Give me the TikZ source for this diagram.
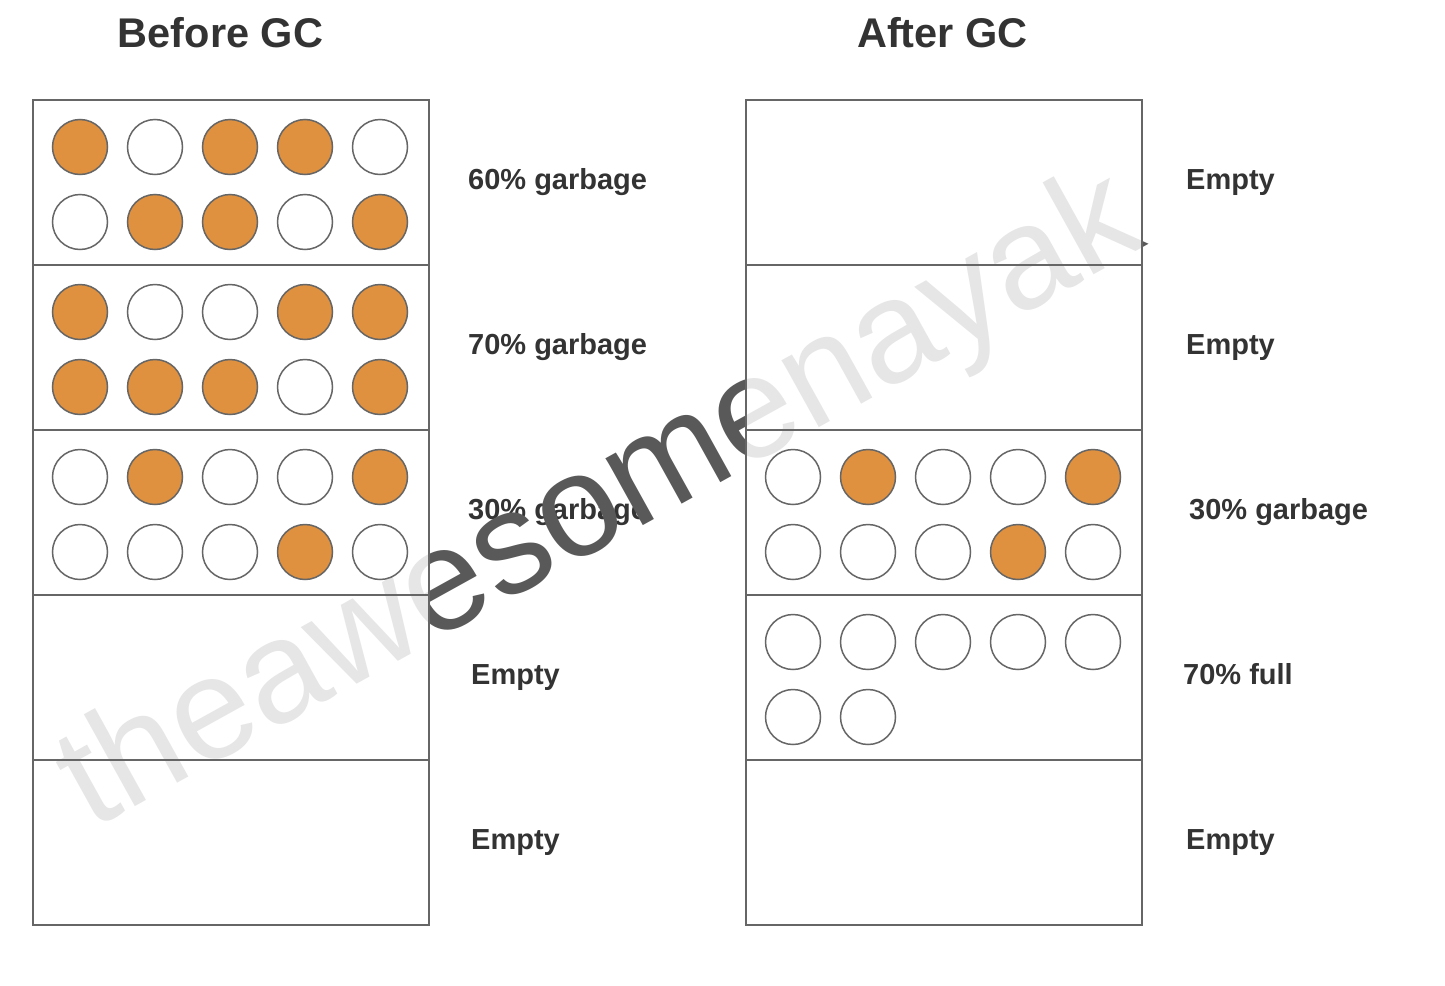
\documentclass[tikz,border=0pt]{standalone}
\usepackage{fontspec}
\setmainfont{Liberation Sans}
\usetikzlibrary{positioning}
\definecolor{garbage}{HTML}{E0913F}
\definecolor{edge}{HTML}{666666}
\definecolor{ink}{HTML}{333333}

\begin{document}
\begin{tikzpicture}[x=1pt,y=-1pt]
\tikzstyle{region} = [fill=white, fill opacity=0.85, minimum width=396pt, minimum height=165pt, inner sep=0pt, outer sep=0pt]
\tikzstyle{frame} = [draw=edge, line width=2pt]
\tikzstyle{obj} = [circle, draw=edge, line width=1.5pt, minimum size=55pt, inner sep=0pt]
\tikzstyle{dead} = [obj, fill=garbage]
\tikzstyle{live} = [obj, fill=white]
\tikzstyle{lbl} = [font=\fontsize{29}{32}\selectfont\bfseries, text=ink, anchor=base west, inner sep=0pt]
\tikzstyle{title} = [font=\fontsize{41.5}{46}\selectfont\bfseries, text=ink, anchor=base, inner sep=0pt]
\useasboundingbox (0,0) rectangle (1445,985);

% titles
\node[title] (before) at (220.5,47) {Before GC};
\node[title] (after) at (942.5,47) {After GC};

% labels, left heap
\node[lbl] (lb1) at (468,189) {60\% garbage};
\node[lbl] (lb2) at (468,354) {70\% garbage};
\node[lbl] (lb3) at (468,519) {30\% garbage};
\node[lbl] (lb4) at (471,684) {Empty};
\node[lbl] (lb5) at (471,849) {Empty};
% labels, right heap
\node[lbl] (la1) at (1186,189) {Empty};
\node[lbl] (la2) at (1186,354) {Empty};
\node[lbl] (la3) at (1189,519) {30\% garbage};
\node[lbl] (la4) at (1183,684) {70\% full};
\node[lbl] (la5) at (1186,849) {Empty};

% watermark
\node[rotate=29, text=black!65, font=\fontsize{145}{150}\selectfont, inner sep=0pt] (mark) at (602,505) {theawesomenayak};

% regions
\foreach \i/\y in {1/182.5,2/347.5,3/512.5,4/677.5,5/842.5} {
  \node[region] (b\i) at (231,\y) {};
  \node[region] (a\i) at (944,\y) {};
}
\foreach \i in {1,...,5} {
  \draw[frame] (b\i.south west) rectangle (b\i.north east);
  \draw[frame] (a\i.south west) rectangle (a\i.north east);
}

% objects before GC
\foreach \y/\row in {147/{dead,live,dead,dead,live}, 222/{live,dead,dead,live,dead},
                     312/{dead,live,live,dead,dead}, 387/{dead,dead,dead,live,dead},
                     477/{live,dead,live,live,dead}, 552/{live,live,live,dead,live}}
  \foreach \s [count=\c] in \row
    \node[\s] (ob\y-\c) at (5+75*\c,\y) {};

% objects after GC
\foreach \y/\row in {477/{live,dead,live,live,dead}, 552/{live,live,live,dead,live},
                     642/{live,live,live,live,live}, 717/{live,live}}
  \foreach \s [count=\c] in \row
    \node[\s] (oa\y-\c) at (718+75*\c,\y) {};
\end{tikzpicture}
\end{document}
